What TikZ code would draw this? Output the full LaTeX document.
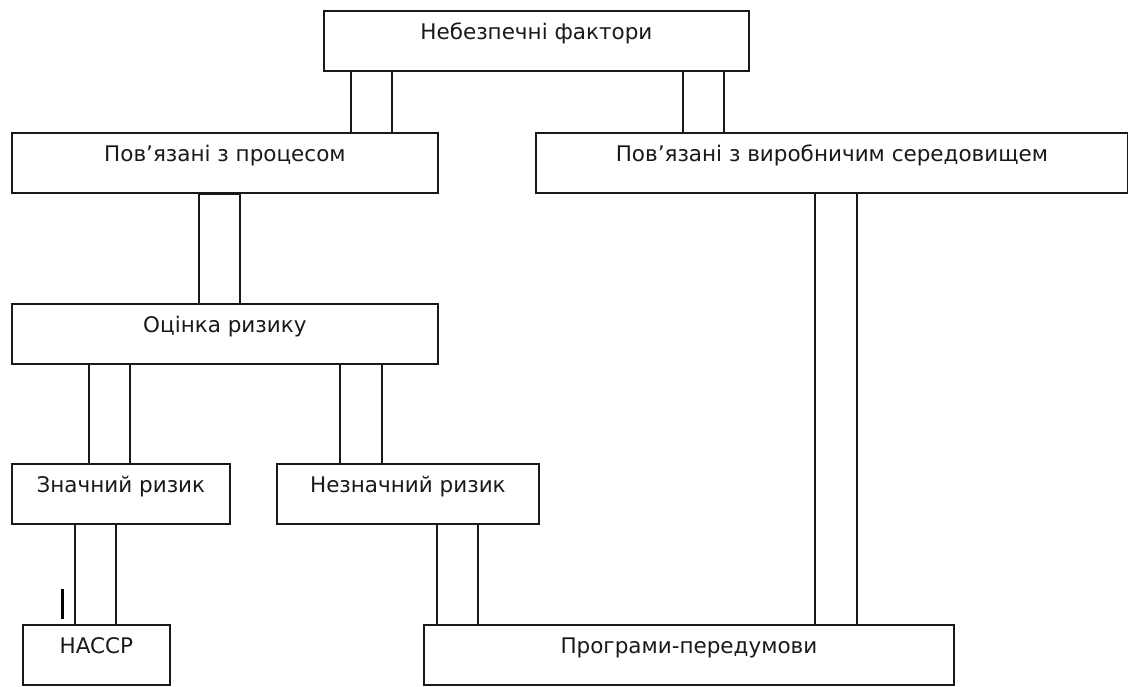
\documentclass[tikz,border=0pt]{standalone}
\usepackage{fontspec}
\setmainfont{DejaVu Sans}
\begin{document}
\begin{tikzpicture}[x=1pt,y=-1pt,
  every node/.style={font=\fontsize{21.5}{26}\selectfont, text=black!90},
  box/.style={draw=black!90, line width=1.8pt, rectangle, anchor=north west,
    minimum height=60pt, inner xsep=0pt, inner ysep=0pt,
    text height=29pt, text depth=31pt},
  link/.style={draw=black!90, line width=1.8pt},
  straymark/.style={draw=black, line width=3pt}
]
\fill[white] (0,0) rectangle (1128,686);
\useasboundingbox (0,0) rectangle (1128,686);

\node[box, minimum width=425pt] (A) at (323,10) {Небезпечні фактори};
\node[box, minimum width=426pt] (B) at (11,132) {Пов’язані з процесом};
\node[box, minimum width=592pt] (C) at (535,132) {Пов’язані з виробничим середовищем};
\node[box, minimum width=426pt] (D) at (11,303) {Оцінка ризику};
\node[box, minimum width=218pt] (E) at (11,463) {Значний ризик\hspace{8pt}};
\node[box, minimum width=262pt] (F) at (276,463) {Незначний ризик};
\node[box, minimum width=147pt] (G) at (22,624) {HACCP\hspace{7pt}};
\node[box, minimum width=530pt] (H) at (423,624) {Програми-передумови};

% A -> B
\draw[link] (351,0 |- A.south) -- (351,0 |- B.north);
\draw[link] (392,0 |- A.south) -- (392,0 |- B.north);
% A -> C
\draw[link] (683,0 |- A.south) -- (683,0 |- C.north);
\draw[link] (724,0 |- A.south) -- (724,0 |- C.north);
% B -> D (closed rectangle)
\draw[link] (199,0 |- B.south) rectangle ([yshift=-1pt]240,0 |- D.north);
% D -> E
\draw[link] (89,0 |- D.south) -- (89,0 |- E.north);
\draw[link] (130,0 |- D.south) -- (130,0 |- E.north);
% D -> F
\draw[link] (340,0 |- D.south) -- (340,0 |- F.north);
\draw[link] (382,0 |- D.south) -- (382,0 |- F.north);
% E -> G
\draw[link] (75,0 |- E.south) -- (75,0 |- G.north);
\draw[link] (116,0 |- E.south) -- (116,0 |- G.north);
% F -> H
\draw[link] (437,0 |- F.south) -- (437,0 |- H.north);
\draw[link] (478,0 |- F.south) -- (478,0 |- H.north);
% C -> H
\draw[link] (815,0 |- C.south) -- (815,0 |- H.north);
\draw[link] (857,0 |- C.south) -- (857,0 |- H.north);

% stray mark above HACCP
\coordinate (m1) at (62,589);
\coordinate (m2) at (62,619);
\draw[straymark] (m1) -- (m2);
\end{tikzpicture}
\end{document}
